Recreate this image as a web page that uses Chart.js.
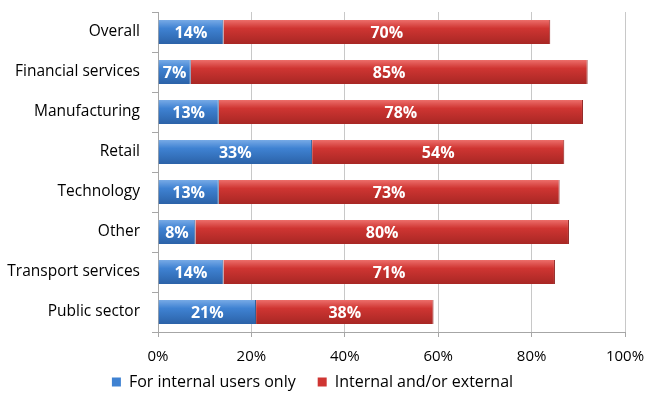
<!DOCTYPE html>
<html>
<head>
<meta charset="utf-8">
<script src="https://cdn.jsdelivr.net/npm/chart.js@4"></script>
<style>
  html, body { margin: 0; padding: 0; background: #fff; }
  #wrap { width: 647px; height: 394px; }
</style>
</head>
<body>
<div id="wrap"><canvas id="chart"></canvas></div>
<script>
const sectores = ['Overall', 'Financial services', 'Manufacturing', 'Retail',
  'Technology', 'Other', 'Transport services', 'Public sector'];
const soloInternos = [14, 7, 13, 33, 13, 8, 14, 21];
const internosExternos = [70, 85, 78, 54, 73, 80, 71, 38];
const etiquetas = ['For internal users only', 'Internal and/or external'];

const fuente = "'Open Sans', sans-serif";

// degradado vertical por barra, estilo Excel
function degradado(colores) {
  return function (ctx) {
    const chart = ctx.chart;
    const y = chart.scales.y;
    if (!chart.chartArea || !y || ctx.dataIndex === undefined) return colores[1];
    const centro = y.getPixelForValue(ctx.dataIndex);
    const medio = (y.getPixelForValue(1) - y.getPixelForValue(0)) * 0.6 / 2;
    const g = chart.ctx.createLinearGradient(0, centro - medio, 0, centro + medio);
    g.addColorStop(0, colores[0]);
    g.addColorStop(0.35, colores[1]);
    g.addColorStop(1, colores[2]);
    return g;
  };
}

const azul = ['#77aae6', '#3f82d2', '#2b62a8'];
const rojo = ['#ec6e6a', '#cf3532', '#a82724'];

// escribe el porcentaje en medio de cada tramo
const rotulos = {
  id: 'rotulos',
  afterDatasetsDraw(chart) {
    const ctx = chart.ctx;
    ctx.save();
    ctx.font = 'bold 16px ' + fuente;
    ctx.fillStyle = '#ffffff';
    ctx.textAlign = 'center';
    ctx.textBaseline = 'middle';
    chart.data.datasets.forEach((ds, i) => {
      chart.getDatasetMeta(i).data.forEach((bar, j) => {
        const x = (bar.x + bar.base) / 2;
        ctx.fillText(ds.data[j] + '%', x, bar.y + 1);
      });
    });
    ctx.restore();
  }
};

// el eje x es bajo para que la leyenda quede cerca; se amplía su zona de dibujo
const ejeX = {
  id: 'ejeX',
  afterLayout(chart) {
    chart.scales.x.bottom = chart.height;
  }
};

new Chart(document.getElementById('chart'), {
  type: 'bar',
  data: {
    labels: sectores,
    datasets: [
      {
        label: etiquetas[0],
        data: soloInternos,
        backgroundColor: degradado(azul),
        borderColor: '#24528c',
        borderWidth: {right: 1},
        borderSkipped: false,
        categoryPercentage: 0.6,
        barPercentage: 1,
      },
      {
        label: etiquetas[1],
        data: internosExternos,
        backgroundColor: degradado(rojo),
        borderColor: '#8e1e1c',
        borderWidth: {right: 1},
        borderSkipped: false,
        categoryPercentage: 0.6,
        barPercentage: 1,
      },
    ],
  },
  options: {
    indexAxis: 'y',
    responsive: true,
    maintainAspectRatio: false,
    animation: false,
    layout: {padding: {top: 12, right: 22, bottom: -6, left: 0}},
    plugins: {
      legend: {
        position: 'bottom',
        labels: {
          boxWidth: 9,
          boxHeight: 9,
          padding: 22,
          color: '#000',
          font: {family: fuente, size: 16},
          generateLabels(chart) {
            return chart.data.datasets.map((ds, i) => ({
              text: ds.label,
              fillStyle: i === 0 ? '#3f82d2' : '#cf3532',
              strokeStyle: i === 0 ? '#3f82d2' : '#cf3532',
              lineWidth: 0,
              datasetIndex: i,
            }));
          },
        },
      },
      tooltip: {enabled: false},
    },
    scales: {
      x: {
        stacked: true,
        min: 0,
        max: 100,
        ticks: {
          stepSize: 20,
          color: '#000',
          padding: 11,
          font: {family: fuente, size: 15},
          callback: v => v + '%',
        },
        grid: {color: '#c8c8c8', tickLength: 5, tickColor: '#a6a6a6'},
        border: {color: '#a6a6a6'},
        afterFit(scale) {
          scale.height = 20;
          scale.paddingLeft = 0;
          scale.paddingRight = 0;
        },
      },
      y: {
        stacked: true,
        ticks: {
          color: '#000',
          padding: 12,
          font: {family: fuente, size: 15.5},
        },
        grid: {drawOnChartArea: false, tickLength: 6, color: '#a6a6a6'},
        border: {color: '#a6a6a6'},
        afterFit(scale) {
          scale.width = 158;
          scale.paddingTop = 0;
          scale.paddingBottom = 0;
        },
      },
    },
  },
  plugins: [rotulos, ejeX],
});
</script>
</body>
</html>
